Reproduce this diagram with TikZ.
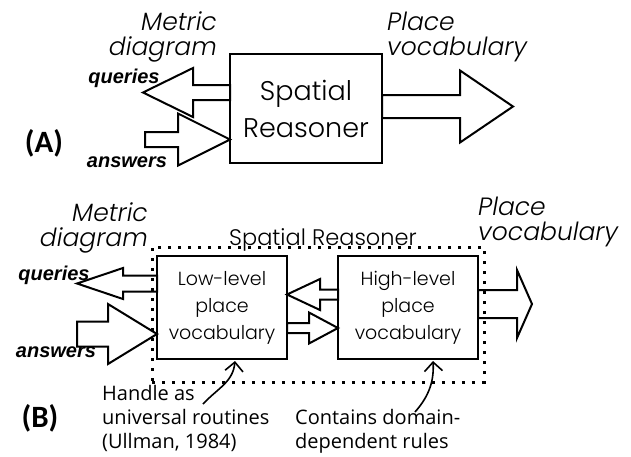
\documentclass[tikz,border=0pt]{standalone}
\usepackage{fontspec}
\setmainfont{Poppins}[UprightFont=* Light, ItalicFont=* Light Italic]
\newfontfamily\annofont{Open Sans}
\newfontfamily\tagfont{Carlito}
\newfontfamily\qafont{Liberation Sans}
\usetikzlibrary{positioning,calc,arrows.meta}

% horizontal block arrow: tail, tip, half shaft, half head, head length (signed)
\newcommand{\hbarrow}[5]{%
  \draw[blockarrow] let \p1=#1, \p2=#2 in
    (\x1,{\y2+#3}) -- ({\x2-(#5)},{\y2+#3}) -- ({\x2-(#5)},{\y2+#4}) -- (\x2,\y2)
    -- ({\x2-(#5)},{\y2-#4}) -- ({\x2-(#5)},{\y2-#3}) -- (\x1,{\y2-#3}) -- cycle;}

\begin{document}
\begin{tikzpicture}[x=1pt,y=-1pt,
                      box/.style={draw, line width=2.4pt, outer sep=0pt, align=center, font=\fontsize{19}{27}\selectfont},
                      blockarrow/.style={draw, line width=2pt, line join=miter},
                      frame/.style={draw, line width=3pt, dash pattern=on 3pt off 7pt, outer sep=0pt},
                      bigtext/.style={font=\fontsize{25}{25}\selectfont\itshape, inner sep=0pt},
                      qatext/.style={font=\qafont\fontsize{20}{20}\selectfont\bfseries\itshape, inner sep=0pt},
                      tagtext/.style={font=\tagfont\fontsize{31}{31}\selectfont\bfseries, inner sep=0pt},
                      annotext/.style={font=\annofont\fontsize{20}{24}\selectfont, align=left, inner sep=0pt},
                      annoarrow/.style={line width=1.6pt, -{Straight Barb[length=9pt,width=18pt]}},
                  ]
                  \useasboundingbox (0,0) rectangle (631,456);
                  %Nodes (A)
                  \node[box, minimum width=152pt, minimum height=109pt, font=\fontsize{27}{37}\selectfont] (rsnA) at (306,108.5) {Spatial\\Reasoner};
                  \node[bigtext, align=right, anchor=east] (mdA) at (217,37) {Metric\\diagram};
                  \node[bigtext, align=left, anchor=west]  (pvA) at (387,37) {Place\\vocabulary};
                  \node[qatext]  (qA)   at (124,78)  {queries};
                  \node[qatext]  (aA)   at (127,162) {answers};
                  \node[tagtext] (tagA) at (44,143)  {(A)};
                  \coordinate (qtipA)  at (143,92.5);
                  \coordinate (atailA) at (145,139.5);
                  \coordinate (ptipA)  at (513,106.5);

                  %Lines (A)
                  \hbarrow{(rsnA.west |- qtipA)}{(qtipA)}{7.5pt}{24.5pt}{-50pt}
                  \hbarrow{(atailA)}{(rsnA.west |- atailA)}{7.5pt}{26pt}{52pt}
                  \hbarrow{(rsnA.east |- ptipA)}{(ptipA)}{11.5pt}{36pt}{53pt}

                  %Nodes (B)
                  \node[frame, minimum width=332pt, minimum height=135pt] (srB) at (318,314.5) {};
                  \node[font=\fontsize{22.5}{22.5}\selectfont, anchor=base, inner sep=0pt] (srlB) at (323,245) {Spatial Reasoner};
                  \node[box, minimum width=130pt, minimum height=103pt] (lowB)  at (222,307.5) {Low-level\\place\\vocabulary};
                  \node[box, minimum width=140pt, minimum height=103pt] (highB) at (408,307.5) {High-level\\place\\vocabulary};
                  \node[bigtext, align=right, anchor=east] (mdB) at (148,228) {Metric\\diagram};
                  \node[bigtext, align=left, anchor=west]  (pvB) at (478,222) {Place\\vocabulary};
                  \node[qatext]  (qB)   at (54,275)  {queries};
                  \node[qatext]  (aB)   at (56,352)  {answers};
                  \node[tagtext] (tagB) at (40,418)  {(B)};
                  \node[annotext, anchor=west] (hdlB) at (102,418) {Handle as\\universal routines\\(Ullman, 1984)};
                  \node[annotext, anchor=west] (cntB) at (295,431) {Contains domain-\\dependent rules};
                  \coordinate (qtipB)   at (77,283.5);
                  \coordinate (atailB)  at (77,334);
                  \coordinate (ptipB)   at (532,304);
                  \coordinate (hdlTail) at (203,404);
                  \coordinate (hdlTip)  at (235,361);
                  \coordinate (cntTail) at (415,412);
                  \coordinate (cntTip)  at (433,361);

                  %Lines (B)
                  \hbarrow{(lowB.west |- qtipB)}{(qtipB)}{8pt}{15.5pt}{-46pt}
                  \hbarrow{(atailB)}{(lowB.west |- atailB)}{12.5pt}{30pt}{49pt}
                  \hbarrow{($(highB.west)+(0,-13)$)}{($(lowB.east)+(0,-13)$)}{5pt}{15.5pt}{-33pt}
                  \hbarrow{($(lowB.east)+(0,20.5)$)}{($(highB.west)+(0,20.5)$)}{5pt}{15.5pt}{29pt}
                  \hbarrow{(highB.east |- ptipB)}{(ptipB)}{14pt}{34pt}{15pt}
                  \draw[annoarrow] (hdlTail) .. controls (218,388) and (233,382) .. (hdlTip);
                  \draw[annoarrow] (cntTail) .. controls (430,395) and (434,380) .. (cntTip);
\end{tikzpicture}
\end{document}
